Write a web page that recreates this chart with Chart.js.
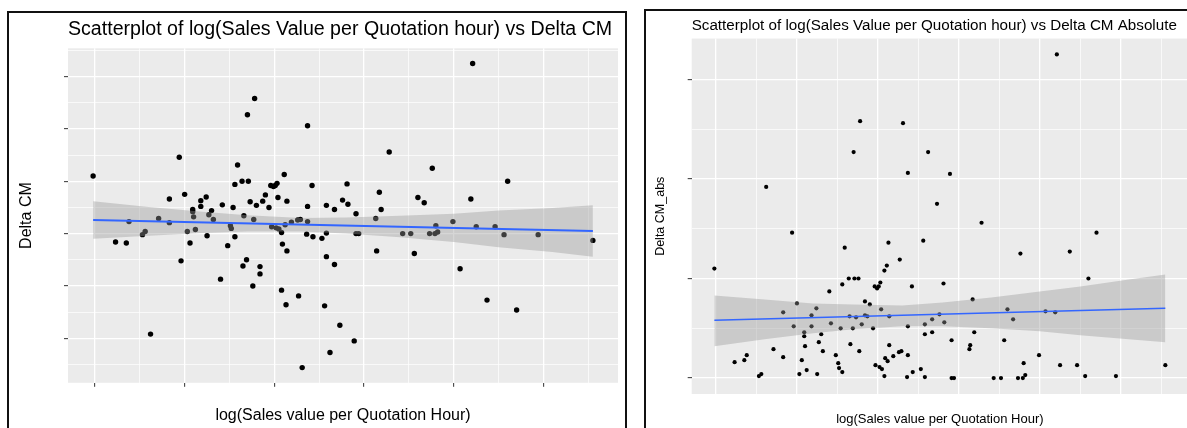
<!DOCTYPE html>
<html>
<head>
<meta charset="utf-8">
<script src="https://cdn.jsdelivr.net/npm/chart.js@4.4.0/dist/chart.umd.min.js"></script>
<style>
  html, body { margin: 0; padding: 0; background: #fff; width: 1187px; height: 428px; overflow: hidden; }
  body { position: relative; }
  .box { position: absolute; top: 0; height: 428px; }
  #leftBox { left: 0; width: 636px; }
  #rightBox { left: 636px; width: 560px; }
  .frame { position: absolute; border: 2px solid #111; pointer-events: none; }
  #leftFrame { left: 7px; top: 11px; width: 616px; height: 440px; }
  #rightFrame { left: 644px; top: 9px; width: 600px; height: 440px; }
</style>
</head>
<body>
<div class="box" id="leftBox"><canvas id="leftChart"></canvas></div>
<div class="box" id="rightBox"><canvas id="rightChart"></canvas></div>
<div class="frame" id="leftFrame"></div>
<div class="frame" id="rightFrame"></div>
<script>
// x = log(sales value per quotation hour), one entry per quotation
var logSales = [
  -0.02, 0.23, 0.35, 0.38, 0.53, 0.56, 0.62, 0.71, 0.83, 0.83,
  0.94, 0.96, 1.00, 1.03, 1.06, 1.09, 1.09, 1.10, 1.12, 1.18,
  1.18, 1.24, 1.25, 1.27, 1.30, 1.32, 1.40, 1.42, 1.48, 1.51,
  1.52, 1.54, 1.56, 1.56, 1.59, 1.64, 1.65, 1.66, 1.69, 1.70,
  1.71, 1.73, 1.76, 1.77, 1.78, 1.80, 1.84, 1.84, 1.87, 1.90,
  1.94, 1.96, 1.97, 1.99, 2.01, 2.02, 2.03, 2.04, 2.05, 2.08,
  2.08, 2.09, 2.11, 2.12, 2.13, 2.14, 2.14, 2.19, 2.26, 2.27,
  2.29, 2.31, 2.36, 2.37, 2.37, 2.37, 2.42, 2.43, 2.53, 2.56,
  2.58, 2.58, 2.58, 2.62, 2.67, 2.67, 2.73, 2.76, 2.81, 2.82,
  2.89, 2.91, 2.91, 2.94, 3.13, 3.14, 3.17, 3.19, 3.28, 3.43,
  3.52, 3.56, 3.60, 3.67, 3.73, 3.76, 3.79, 3.80, 3.82, 3.99,
  4.07, 4.19, 4.21, 4.25, 4.37, 4.46, 4.56, 4.60, 4.70, 4.94,
  5.55
];
var deltaCM = [
  1.10, -0.16, -0.18, 0.23, -0.02, 0.04, -1.92, 0.29, 0.66, 0.21,
  1.46, -0.52, 0.75, 0.04, -0.18, 0.46, 0.42, 0.32, 0.08, 0.63,
  0.52, 0.70, -0.04, 0.36, 0.44, 0.27, -0.87, 0.55, -0.23, 0.15,
  0.10, 0.50, 0.94, -0.06, 1.31, 1.00, -0.62, 0.34, -0.50, 2.27,
  1.00, 0.61, -1.00, 0.27, 2.58, 0.54, -0.63, -0.77, 0.62, 0.74,
  0.50, 0.92, 0.13, 0.90, 0.92, 0.11, 0.96, 0.69, 0.09, 0.02,
  -1.08, -0.20, 1.13, 0.17, -1.36, 0.62, -0.33, 0.22, 0.26, -1.19,
  0.27, -2.56, -0.01, 2.06, 0.52, 0.23, 0.92, -0.06, -0.09, -1.38,
  0.54, 0.01, -0.44, -2.27, 0.46, -0.59, -1.75, 0.64, 0.95, 0.56,
  -2.05, 0.38, 0.00, 0.00, 0.29, -0.33, 0.79, 0.46, 1.56, 0.00,
  0.00, -0.38, 0.69, 0.59, 0.00, 1.25, 0.00, 0.15, 0.03, 0.23,
  -0.67, 0.66, 3.25, 0.13, -1.27, 0.13, -0.02, 1.00, -1.46, -0.02,
  -0.13
];
var deltaCMAbs = [
  1.10, 0.16, 0.18, 0.23, 0.02, 0.04, 1.92, 0.29, 0.66, 0.21,
  1.46, 0.52, 0.75, 0.04, 0.18, 0.46, 0.42, 0.32, 0.08, 0.63,
  0.52, 0.70, 0.04, 0.36, 0.44, 0.27, 0.87, 0.55, 0.23, 0.15,
  0.10, 0.50, 0.94, 0.06, 1.31, 1.00, 0.62, 0.34, 0.50, 2.27,
  1.00, 0.61, 1.00, 0.27, 2.58, 0.54, 0.63, 0.77, 0.62, 0.74,
  0.50, 0.92, 0.13, 0.90, 0.92, 0.11, 0.96, 0.69, 0.09, 0.02,
  1.08, 0.20, 1.13, 0.17, 1.36, 0.62, 0.33, 0.22, 0.26, 1.19,
  0.27, 2.56, 0.01, 2.06, 0.52, 0.23, 0.92, 0.06, 0.09, 1.38,
  0.54, 0.01, 0.44, 2.27, 0.46, 0.59, 1.75, 0.64, 0.95, 0.56,
  2.05, 0.38, 0.00, 0.00, 0.29, 0.33, 0.79, 0.46, 1.56, 0.00,
  0.00, 0.38, 0.69, 0.59, 0.00, 1.25, 0.00, 0.15, 0.03, 0.23,
  0.67, 0.66, 3.25, 0.13, 1.27, 0.13, 0.02, 1.00, 1.46, 0.02,
  0.13
];

// lm smoother: fitted line ends and confidence band
var fitX = [-0.02, 5.55];
var fitCM = [0.26, 0.05];
var fitCMAbs = [0.58, 0.70];
var bandX = [-0.02, 0.6, 1.2, 1.7, 2.3, 2.8, 3.4, 4.0, 4.5, 5.1, 5.55];
var bandCMUpper = [0.62, 0.51, 0.42, 0.35, 0.30, 0.31, 0.34, 0.38, 0.44, 0.49, 0.54];
var bandCMLower = [-0.10, -0.04, 0.01, 0.04, 0.04, 0.00, -0.07, -0.16, -0.26, -0.35, -0.44];
var bandAbsUpper = [0.83, 0.79, 0.75, 0.74, 0.73, 0.76, 0.81, 0.87, 0.92, 0.99, 1.04];
var bandAbsLower = [0.32, 0.39, 0.45, 0.49, 0.52, 0.52, 0.50, 0.47, 0.43, 0.39, 0.36];

var FONT = "'Liberation Sans', Arial, sans-serif";

function pairs(xs, ys) {
  return xs.map(function (x, i) { return { x: x, y: ys[i] }; });
}
function isMajor(ctx) {
  return ctx.tick && Math.abs(ctx.tick.value - Math.round(ctx.tick.value)) < 1e-6;
}

// grey ggplot panel behind the grid
var panelBg = {
  id: "panelBg",
  beforeDraw: function (chart) {
    var a = chart.chartArea, c = chart.ctx;
    c.save();
    c.fillStyle = "#EBEBEB";
    c.fillRect(a.left, a.top, a.right - a.left, a.bottom - a.top);
    c.restore();
  }
};

function makeChart(id, o) {
  var ctx = document.getElementById(id).getContext("2d");
  return new Chart(ctx, {
    type: "scatter",
    data: {
      datasets: [
        {
          data: pairs(fitX, o.fit),
          showLine: true,
          borderColor: "#3366FF",
          borderWidth: o.lineWidth,
          pointRadius: 0,
          order: 0
        },
        {
          data: pairs(bandX, o.upper),
          showLine: true,
          borderColor: "transparent",
          borderWidth: 0,
          pointRadius: 0,
          backgroundColor: "rgba(153,153,153,0.4)",
          fill: "+1",
          order: 1
        },
        {
          data: pairs(bandX, o.lower),
          showLine: true,
          borderColor: "transparent",
          borderWidth: 0,
          pointRadius: 0,
          fill: false,
          order: 2
        },
        {
          data: pairs(logSales, o.values),
          pointRadius: o.dot,
          pointBackgroundColor: "#000",
          pointBorderWidth: 0,
          order: 3
        }
      ]
    },
    options: {
      responsive: true,
      maintainAspectRatio: false,
      animation: false,
      events: [],
      layout: { padding: { left: 0, right: o.padRight, top: 0, bottom: 0 } },
      plugins: {
        legend: { display: false },
        tooltip: { enabled: false },
        title: {
          display: true,
          text: o.title,
          align: "start",
          fullSize: false,
          color: "#000",
          font: { family: FONT, size: o.titleSize, weight: "normal", lineHeight: 1.2 },
          padding: { top: o.titleTop, bottom: o.titleBottom }
        }
      },
      scales: {
        x: {
          type: "linear",
          min: -0.30,
          max: o.xMax,
          border: { display: false },
          grid: {
            color: "#fff",
            lineWidth: function (c) { return isMajor(c) ? 1.3 : 0.7; },
            tickColor: function (c) { return o.xTicks && isMajor(c) ? "#333" : "transparent"; },
            tickWidth: 1,
            tickLength: 4
          },
          ticks: { display: false, stepSize: 0.5, includeBounds: false },
          title: {
            display: true,
            text: "log(Sales value per Quotation Hour)",
            color: "#000",
            font: { family: FONT, size: o.axisSize, lineHeight: 1.2 },
            padding: { top: 0, bottom: o.xTitlePad }
          },
          afterFit: function (s) { s.height = o.xHeight; }
        },
        y: {
          type: "linear",
          min: o.yMin,
          max: o.yMax,
          border: { display: false },
          grid: {
            color: "#fff",
            lineWidth: function (c) { return isMajor(c) ? 1.3 : 0.7; },
            tickColor: function (c) { return isMajor(c) ? "#333" : "transparent"; },
            tickWidth: 1,
            tickLength: 4
          },
          ticks: { display: false, stepSize: 0.5, includeBounds: false },
          title: {
            display: true,
            text: o.yTitle,
            color: "#000",
            font: { family: FONT, size: o.yTitleSize, lineHeight: 1.2 },
            padding: { top: o.yTitlePad, bottom: 0 }
          },
          afterFit: function (s) { s.width = o.yWidth; }
        }
      }
    },
    plugins: [panelBg]
  });
}

makeChart("leftChart", {
  title: "Scatterplot of log(Sales Value per Quotation hour) vs Delta CM",
  titleSize: 19.6, titleTop: 18.2, titleBottom: 6.6,
  yTitle: "Delta CM", yTitleSize: 16, yTitlePad: 16.5, yWidth: 68,
  axisSize: 16, xTitlePad: 2.6, xHeight: 45.2, xTicks: true,
  padRight: 18, xMax: 5.83, yMin: -2.85, yMax: 3.54,
  values: deltaCM, fit: fitCM, upper: bandCMUpper, lower: bandCMLower,
  dot: 2.7, lineWidth: 2
});

makeChart("rightChart", {
  title: "Scatterplot of log(Sales Value per Quotation hour) vs Delta CM Absolute",
  titleSize: 15.2, titleTop: 16.2, titleBottom: 4.1,
  yTitle: "Delta CM_abs", yTitleSize: 12.5, yTitlePad: 16.8, yWidth: 55.7,
  axisSize: 13, xTitlePad: 0.5, xHeight: 34, xTicks: false,
  padRight: 8, xMax: 5.83, yMin: -0.16, yMax: 3.41,
  values: deltaCMAbs, fit: fitCMAbs, upper: bandAbsUpper, lower: bandAbsLower,
  dot: 2.1, lineWidth: 1.5
});
</script>
</body>
</html>
